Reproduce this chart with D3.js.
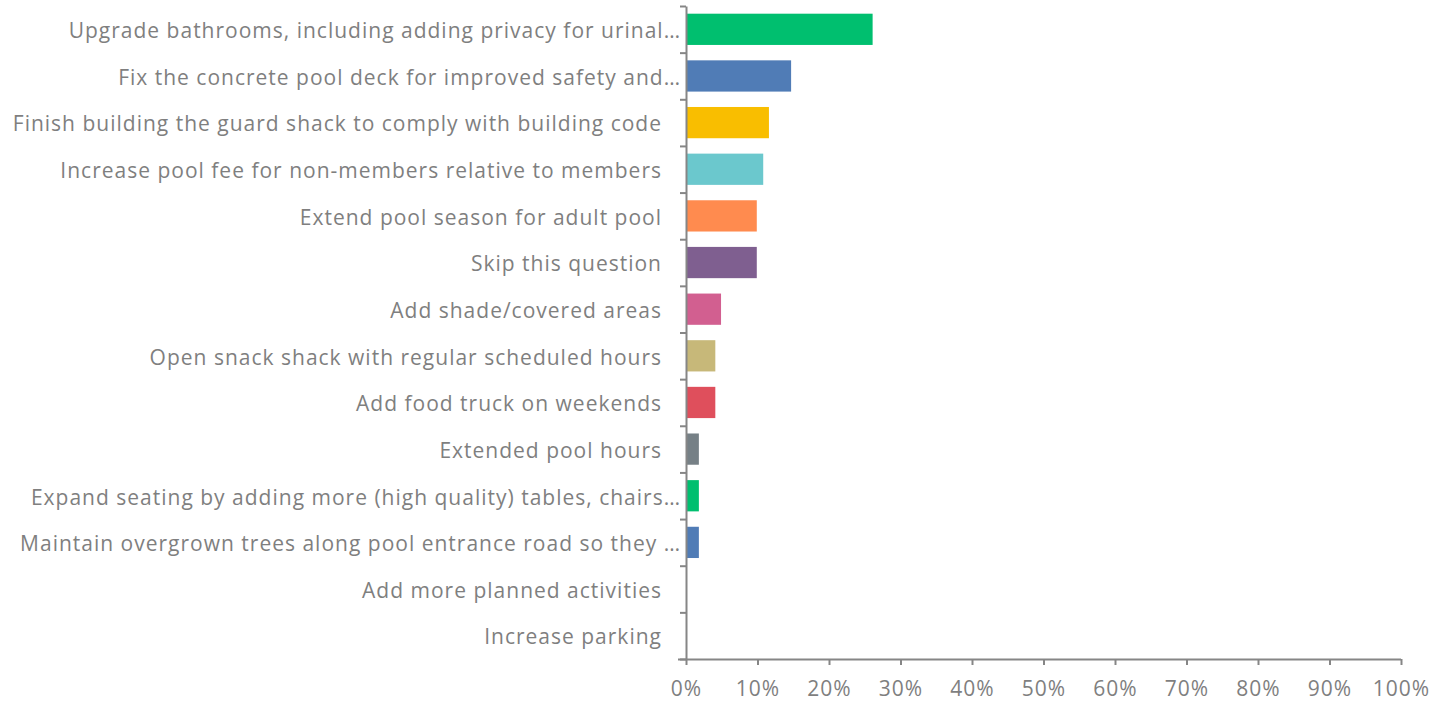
<!DOCTYPE html>
<html>
<head>
<meta charset="utf-8">
<script src="https://cdn.jsdelivr.net/npm/d3@7"></script>
<style>
  body { margin: 0; background: #fff; }
  svg text { font-family: "Open Sans", sans-serif; fill: #7f7f7f; letter-spacing: 1px; }
</style>
</head>
<body>
<svg id="chart" width="1441" height="709"></svg>
<script>
const CATEGORIES = [
  "Upgrade bathrooms, including adding privacy for urinal…",
  "Fix the concrete pool deck for improved safety and…",
  "Finish building the guard shack to comply with building code",
  "Increase pool fee for non-members relative to members",
  "Extend pool season for adult pool",
  "Skip this question",
  "Add shade/covered areas",
  "Open snack shack with regular scheduled hours",
  "Add food truck on weekends",
  "Extended pool hours",
  "Expand seating by adding more (high quality) tables, chairs…",
  "Maintain overgrown trees along pool entrance road so they …",
  "Add more planned activities",
  "Increase parking"
];
const VALUES = [26.1, 14.7, 11.6, 10.8, 9.9, 9.9, 4.9, 4.1, 4.1, 1.8, 1.8, 1.8, 0, 0];
const COLORS = ["#00bf6f", "#507cb6", "#f9be00", "#6bc8cd", "#ff8b4f", "#7f5f90",
  "#d25f90", "#c7b879", "#df4f5c", "#768086", "#00bf6f", "#507cb6", "#00bf6f", "#507cb6"];
const X_TICKS = [0, 10, 20, 30, 40, 50, 60, 70, 80, 90, 100];

const svg = d3.select("#chart");
const LEFT = 686, RIGHT = 1401, TOP = 6, BOTTOM = 659;
const AXIS_COLOR = "#868686";

const xScale = d3.scaleLinear().domain([0, 100]).range([LEFT, RIGHT]);
const yScale = d3.scaleBand().domain(CATEGORIES).range([TOP, BOTTOM])
  .paddingInner(0.33).paddingOuter(0.165);
const bounds = d3.scaleLinear().domain([0, CATEGORIES.length]).range([TOP, BOTTOM]);

// bars
svg.selectAll(".bar")
  .data(CATEGORIES)
  .enter()
  .append("rect")
  .classed("bar", true)
  .attr("x", xScale(0))
  .attr("y", d => yScale(d))
  .attr("height", yScale.bandwidth())
  .attr("width", (d, i) => xScale(VALUES[i]) - xScale(0))
  .attr("fill", (d, i) => COLORS[i]);

// category axis, ticks on the band edges
const yAxis = svg.append("g")
  .attr("transform", `translate(${LEFT},0)`)
  .call(d3.axisLeft(bounds).tickValues(d3.range(CATEGORIES.length + 1))
    .tickFormat("").tickSize(6).tickSizeOuter(0));
yAxis.selectAll("line, path").attr("stroke", AXIS_COLOR).attr("stroke-width", 2);

svg.selectAll(".cat")
  .data(CATEGORIES)
  .enter()
  .append("text")
  .classed("cat", true)
  .attr("x", d => d.endsWith("…") ? 681 : 662)
  .attr("y", d => yScale(d) + yScale.bandwidth() / 2)
  .attr("dy", "0.42em")
  .attr("text-anchor", "end")
  .attr("font-size", 21)
  .text(d => d);

// value axis
const xAxis = svg.append("g")
  .attr("transform", `translate(0,${BOTTOM})`)
  .call(d3.axisBottom(xScale).tickValues(X_TICKS).tickFormat(d => d + "%")
    .tickSize(6).tickSizeOuter(0).tickPadding(16));
xAxis.select(".domain").attr("d", `M${LEFT - 8},0.5H${RIGHT}`);
xAxis.selectAll("line, path").attr("stroke", AXIS_COLOR).attr("stroke-width", 2);
xAxis.selectAll("text").attr("font-size", 21).attr("fill", "#7f7f7f")
  .style("font-family", "'Open Sans', sans-serif");
</script>
</body>
</html>
